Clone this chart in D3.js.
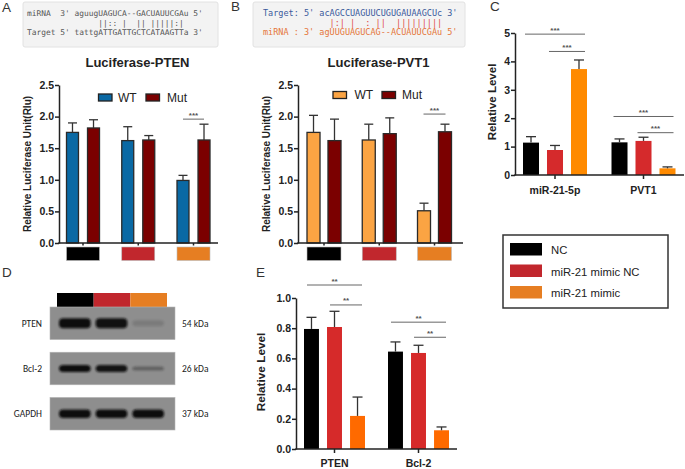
<!DOCTYPE html>
<html><head><meta charset="utf-8">
<script src="https://cdn.jsdelivr.net/npm/d3@7"></script>
<style>
html,body{margin:0;padding:0;background:#fff;}
svg{display:block;font-family:"Liberation Sans",Arial,sans-serif;}
</style></head>
<body>
<script>
// ---------- DATA ----------
const groups = ["NC", "miR-21 mimic NC", "miR-21 mimic"];
const lucSeries = ["WT", "Mut"];
const ptenWT = [1.75, 1.62, 0.99];
const ptenWTErr = [0.15, 0.22, 0.08];
const ptenMut = [1.82, 1.63, 1.63];
const ptenMutErr = [0.13, 0.07, 0.25];
const pvtWT = [1.75, 1.63, 0.51];
const pvtWTErr = [0.27, 0.25, 0.12];
const pvtMut = [1.62, 1.73, 1.76];
const pvtMutErr = [0.34, 0.25, 0.12];
const lucTicks = [0, 0.5, 1.0, 1.5, 2.0, 2.5];

const cCats = ["miR-21-5p", "PVT1"];
const cNC = [1.14, 1.15];
const cNCErr = [0.21, 0.12];
const cMimicNC = [0.88, 1.20];
const cMimicNCErr = [0.16, 0.13];
const cMimic = [3.73, 0.235];
const cMimicErr = [0.32, 0.05];
const cTicks = [0, 1, 2, 3, 4, 5];

const eCats = ["PTEN", "Bcl-2"];
const eNC = [0.795, 0.645];
const eNCErr = [0.077, 0.064];
const eMimicNC = [0.808, 0.636];
const eMimicNCErr = [0.104, 0.051];
const eMimic = [0.219, 0.124];
const eMimicErr = [0.125, 0.022];
const eTicks = [0, 0.2, 0.4, 0.6, 0.8, 1.0];

const blotProteins = ["PTEN", "Bcl-2", "GAPDH"];
const blotKDa = ["54 kDa", "26 kDa", "37 kDa"];
const blotIntensity = [[1, 0.97, 0.14], [1, 0.95, 0.35], [1, 1, 1]];

// significance: [category index, from series, to series, y value, label]
const sigA = [[2, 0, 1, 1.96, "***"]];
const sigB = [[2, 0, 1, 2.04, "***"]];
const sigC = [[0, 0, 2, 4.96, "***"], [0, 1, 2, 4.35, "***"], [1, 0, 2, 2.06, "***"], [1, 1, 2, 1.49, "***"]];
const sigE = [[0, 0, 2, 1.086, "**"], [0, 1, 2, 0.954, "**"], [1, 0, 2, 0.84, "**"], [1, 1, 2, 0.74, "**"]];

const seqA = ["miRNA  3' aguugUAGUCA--GACUAUUCGAu 5'",
              "               ||:: |  || |||||:|",
              "Target 5' tattgATTGATTGCTCATAAGTTa 3'"];
const seqB = ["Target: 5' acAGCCUAGUUCUGUGAUAAGCUc 3'",
              "             |:| |  : ||  |||||||||",
              "miRNA : 3' agUUGUAGUCAG--ACUAUUCGAu 5'"];

// ---------- DRAW ----------
const svg = d3.select("body").append("svg").attr("width", 685).attr("height", 469);
const defs = svg.append("defs");
defs.append("filter").attr("id", "blur").attr("x", "-20%").attr("y", "-60%").attr("width", "140%").attr("height", "220%")
  .append("feGaussianBlur").attr("stdDeviation", 1.0);

const groupColors = ["#000000", "#c1272d", "#e67e22"];

// panel letters
[["A", 2, 12], ["B", 231, 11], ["C", 490, 11], ["D", 2, 277], ["E", 256, 277]].forEach(([t, x, y]) =>
  svg.append("text").attr("x", x).attr("y", y).attr("font-size", 13.5).attr("fill", "#333").text(t));

// sequence boxes
function seqBox(x, y, w, h, lines, colors, fs, tx) {
  svg.append("rect").attr("x", x).attr("y", y).attr("width", w).attr("height", h)
    .attr("fill", "#f3f3f3").attr("stroke", "#e2e2e2").attr("rx", 2);
  lines.forEach((l, i) => svg.append("text").attr("x", tx).attr("y", y + 14 + i * 9.5)
    .attr("font-family", "'DejaVu Sans Mono',monospace").attr("font-size", fs)
    .attr("fill", colors[i]).attr("xml:space", "preserve").style("white-space", "pre").text(l));
}
seqBox(23, 2, 195, 45, seqA, ["#555", "#555", "#555"], 7.9, 27);
seqBox(253, 2, 212, 45, seqB, ["#3a5a9c", "#e04848", "#e5763a"], 8.5, 263);

function barPanel(o) {
  const g = svg.append("g");
  const y = d3.scaleLinear().domain(o.yDomain).range([o.y0, o.y1]);
  const xg = d3.scalePoint().domain(o.cats).range(o.catRange);
  const xs = d3.scaleBand().domain(d3.range(o.series.length)).range(o.inner).paddingInner(o.pad);
  o.series.forEach((s, si) => {
    g.selectAll(null).data(s.values).enter().append("rect")
      .attr("x", (d, i) => xg(o.cats[i]) + xs(si))
      .attr("y", d => y(d))
      .attr("width", xs.bandwidth())
      .attr("height", d => y(0) - y(d))
      .attr("fill", s.color)
      .attr("stroke", o.barStroke || "none").attr("stroke-width", 1.3);
    s.values.forEach((d, i) => {
      const cx = xg(o.cats[i]) + xs(si) + xs.bandwidth() / 2;
      const top = y(d + s.err[i]);
      g.append("line").attr("x1", cx).attr("x2", cx).attr("y1", y(d)).attr("y2", top).attr("stroke", "#333").attr("stroke-width", 1.3);
      g.append("line").attr("x1", cx - o.cap).attr("x2", cx + o.cap).attr("y1", top).attr("y2", top).attr("stroke", "#333").attr("stroke-width", 1.3);
    });
  });
  const ya = g.append("g").attr("transform", `translate(${o.axisX},0)`)
    .call(d3.axisLeft(y).tickValues(o.ticks).tickFormat(d3.format(o.fmt)).tickSize(4).tickSizeOuter(0));
  ya.select(".domain").attr("stroke", "#222").attr("stroke-width", 1.5);
  ya.selectAll(".tick line").attr("stroke", "#222").attr("stroke-width", 1.5);
  ya.selectAll(".tick text").attr("font-size", o.tickFs).attr("font-weight", "bold").attr("fill", "#222")
    .attr("font-family", "'Liberation Sans',Arial,sans-serif").attr("x", -5);
  g.append("line").attr("x1", o.axisX - 0.75).attr("x2", o.xEnd).attr("y1", y(0)).attr("y2", y(0)).attr("stroke", "#222").attr("stroke-width", 1.5);
  o.cats.forEach(c => g.append("line").attr("x1", xg(c)).attr("x2", xg(c)).attr("y1", y(0)).attr("y2", y(0) + o.xTick)
    .attr("stroke", "#222").attr("stroke-width", 1.5));
  if (o.catLabels) o.cats.forEach(c => g.append("text").attr("x", xg(c)).attr("y", o.catLabelY).attr("text-anchor", "middle")
    .attr("font-size", o.catFs).attr("font-weight", "bold").attr("fill", "#222").text(c));
  g.append("text").attr("transform", `translate(${o.ylabX},${o.ylabY}) rotate(-90)`).attr("text-anchor", "middle")
    .attr("font-size", o.ylabFs).attr("font-weight", "bold").attr("fill", "#222").text(o.ylab);
  o.sig.forEach(([ci, a, b, v, lab]) => {
    const c = xg(o.cats[ci]);
    const x1 = c + xs(a) + (o.sigInset || 0), x2 = c + xs(b) + xs.bandwidth() - (o.sigInset || 0);
    g.append("line").attr("x1", x1).attr("x2", x2).attr("y1", y(v)).attr("y2", y(v)).attr("stroke", "#666").attr("stroke-width", 1);
    g.append("text").attr("x", (x1 + x2) / 2).attr("y", y(v) - 1.5).attr("text-anchor", "middle")
      .attr("font-size", 8).attr("font-weight", "bold").attr("fill", "#555").text(lab);
  });
  if (o.title) g.append("text").attr("x", o.titleX).attr("y", 67).attr("text-anchor", "middle")
    .attr("font-size", 13).attr("font-weight", "bold").attr("fill", "#222").text(o.title);
  if (o.squares) o.cats.forEach((c, i) => {
    g.append("rect").attr("x", xg(c) + o.inner[0]).attr("y", 247).attr("width", o.inner[1] - o.inner[0]).attr("height", 13.5)
      .attr("fill", groupColors[i]).attr("stroke", "#bbb").attr("stroke-width", 0.6);
  });
  if (o.legend) o.legend.forEach(([lab, col, sx, tx]) => {
    g.append("rect").attr("x", sx).attr("y", o.legY - 7.5).attr("width", 13.5).attr("height", 7).attr("fill", col)
      .attr("stroke", "#222").attr("stroke-width", 1.3);
    g.append("text").attr("x", tx).attr("y", o.legY).attr("font-size", 12).attr("fill", "#222").text(lab);
  });
  return g;
}

// Panel A
barPanel({
  yDomain: [0, 2.5], y0: 243, y1: 85, cats: groups, catRange: [83, 193.5], inner: [-16.5, 16.5], pad: 0.43,
  series: [{ values: ptenWT, err: ptenWTErr, color: "#0a69a4" }, { values: ptenMut, err: ptenMutErr, color: "#7b0000" }],
  barStroke: "#2a2a2a", cap: 4.5, axisX: 59, xEnd: 218, ticks: lucTicks, fmt: ".1f", tickFs: 10.5, xTick: 2.5,
  ylab: "Relative Luciferase Unit(Rlu)", ylabX: 31, ylabY: 164, ylabFs: 10, sig: sigA, sigInset: 6,
  title: "Luciferase-PTEN", titleX: 137.5, squares: true,
  legend: [["WT", "#0a69a4", 98.5, 118], ["Mut", "#7b0000", 146, 167]], legY: 101.5
});
// Panel B
barPanel({
  yDomain: [0, 2.5], y0: 243, y1: 85, cats: groups, catRange: [324, 434.5], inner: [-17, 17], pad: 0.38,
  series: [{ values: pvtWT, err: pvtWTErr, color: "#fba443" }, { values: pvtMut, err: pvtMutErr, color: "#7b0000" }],
  barStroke: "#2a2a2a", cap: 4.5, axisX: 298, xEnd: 463, ticks: lucTicks, fmt: ".1f", tickFs: 10.5, xTick: 2.5,
  ylab: "Relative Luciferase Unit(Rlu)", ylabX: 270, ylabY: 164, ylabFs: 10, sig: sigB, sigInset: 6,
  title: "Luciferase-PVT1", titleX: 378.5, squares: true,
  legend: [["WT", "#fba443", 333, 354.5], ["Mut", "#7b0000", 382, 402]], legY: 99
});
// Panel C
barPanel({
  yDomain: [0, 5], y0: 175, y1: 33, cats: cCats, catRange: [555, 643.5], inner: [-32, 32], pad: 0.333,
  series: [{ values: cNC, err: cNCErr, color: "#000000" }, { values: cMimicNC, err: cMimicNCErr, color: "#d52a2c" },
           { values: cMimic, err: cMimicErr, color: "#ff8a00" }],
  cap: 5, axisX: 515, xEnd: 684, ticks: cTicks, fmt: "d", tickFs: 10.5, xTick: 4,
  catLabels: true, catLabelY: 194, catFs: 10.5,
  ylab: "Relative Level", ylabX: 496, ylabY: 102, ylabFs: 11.5, sig: sigC, sigInset: 2
});
// Panel E
barPanel({
  yDomain: [0, 1], y0: 449, y1: 298, cats: eCats, catRange: [334.5, 418.5], inner: [-30.5, 30.5], pad: 0.35,
  series: [{ values: eNC, err: eNCErr, color: "#000000" }, { values: eMimicNC, err: eMimicNCErr, color: "#d62a2a" },
           { values: eMimic, err: eMimicErr, color: "#ff6a00" }],
  cap: 5, axisX: 296, xEnd: 457, ticks: eTicks, fmt: ".1f", tickFs: 10.5, xTick: 4,
  catLabels: true, catLabelY: 467, catFs: 10.5,
  ylab: "Relative Level", ylabX: 265, ylabY: 372, ylabFs: 11.8, sig: sigE, sigInset: 3
});

// Legend box
const lg = svg.append("g");
lg.append("rect").attr("x", 503).attr("y", 235).attr("width", 165).attr("height", 73).attr("fill", "#fff")
  .attr("stroke", "#333").attr("stroke-width", 1.5);
groups.forEach((gname, i) => {
  lg.append("rect").attr("x", 510).attr("y", 243 + i * 21.5).attr("width", 32).attr("height", 12.5).attr("fill", groupColors[i]);
  lg.append("text").attr("x", 551).attr("y", 254 + i * 21.5).attr("font-size", 11.3).attr("fill", "#222").text(gname);
});

// Panel D western blot
const lane = d3.scaleBand().domain(groups).range([57, 167]);
const row = d3.scaleBand().domain(blotProteins).range([307, 430]).paddingInner(0.28);
const dg = svg.append("g");
groups.forEach((gname, i) => dg.append("rect").attr("x", lane(gname)).attr("y", 293).attr("width", lane.bandwidth()).attr("height", 14)
  .attr("fill", groupColors[i]));
blotProteins.forEach((p, r) => {
  const ry = row(p), rh = row.bandwidth();
  dg.append("rect").attr("x", 50).attr("y", ry).attr("width", 125).attr("height", rh).attr("fill", "#8e8e8e")
    .attr("stroke", "#b5b5b5").attr("stroke-width", 0.6);
  const bh = [10, 7, 8.5][r];
  groups.forEach((gname, i) => {
    const inten = blotIntensity[r][i];
    const h = inten < 0.5 ? bh * 0.6 : bh;
    dg.append("rect").attr("x", lane(gname) + 2).attr("y", ry + rh / 2 - h / 2).attr("width", lane.bandwidth() - 5).attr("height", h)
      .attr("rx", 4).attr("fill", "#101010").attr("opacity", inten).attr("filter", "url(#blur)");
  });
  dg.append("text").attr("x", 42).attr("y", ry + rh / 2 + 3.5).attr("text-anchor", "end").attr("font-size", 9.5)
    .attr("font-family", "Carlito,'Liberation Sans',Arial,sans-serif").attr("fill", "#222").text(p);
  dg.append("text").attr("x", 182).attr("y", ry + rh / 2 + 3.5).attr("font-size", 9.5)
    .attr("font-family", "Carlito,'Liberation Sans',Arial,sans-serif").attr("fill", "#222").text(blotKDa[r]);
});
</script>
</body></html>
